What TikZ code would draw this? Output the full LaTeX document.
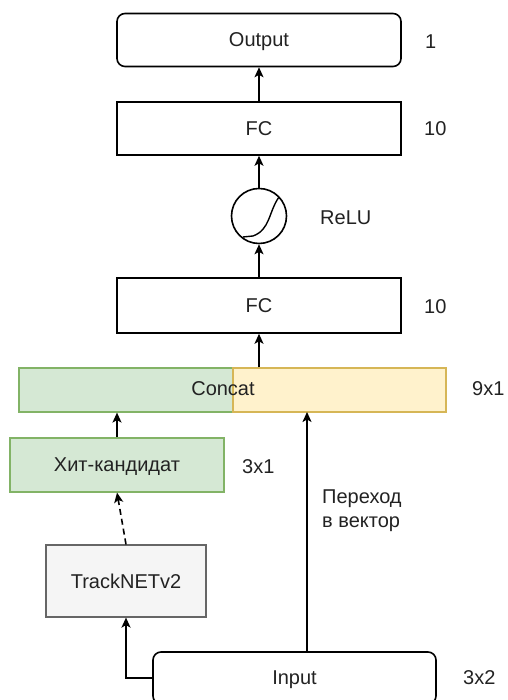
\documentclass[tikz,border=0pt]{standalone}
\usepackage{fontspec}
\setmainfont{Liberation Sans}
\usetikzlibrary{arrows.meta}
\definecolor{greenfill}{HTML}{D5E8D4}
\definecolor{greenline}{HTML}{82B366}
\definecolor{yellowfill}{HTML}{FFF2CC}
\definecolor{yellowline}{HTML}{D6B656}
\definecolor{grayfill}{HTML}{F5F5F5}
\definecolor{grayline}{HTML}{666666}
\definecolor{txt}{HTML}{222222}
\begin{document}
\begin{tikzpicture}[>={Stealth[length=10pt,width=9pt,inset=2.5pt]},x=1pt,y=1pt,
	every node/.style={font=\fontsize{20}{24}\selectfont,text=txt},
	layer/.style={draw,line width=1.6pt,minimum width=284pt,minimum height=53pt,text depth=0pt},
	io/.style={layer,rounded corners=8pt},
	greenbox/.style={draw=greenline,fill=greenfill,line width=1.2pt,minimum height=54pt,text depth=0pt},
	yellowbox/.style={draw=yellowline,fill=yellowfill,line width=1.2pt,minimum height=44pt},
	graybox/.style={draw=grayline,fill=grayfill,line width=1.2pt,minimum width=160pt,minimum height=72pt},
	dim/.style={anchor=west,inner sep=0pt},
	link/.style={->,line width=1.6pt}]
		\clip (0,0) rectangle (507,700);
		% layers
		\node[io] (out) at (259,660) {Output};
		\node[layer] (fc2) at (259,571.5) {FC};
		\node[draw,circle,line width=1.6pt,minimum size=55pt] (relu) at (259,484) {};
		\draw[line width=1.4pt] (relu.center) ++(-16,-21) -- ++(10,1) to[out=20,in=235] ++(26,39);
		\node[layer,minimum height=55pt] (fc1) at (259,394.5) {FC};
		\node[greenbox,minimum width=214pt,minimum height=44pt] (catL) at (126,310) {};
		\node[yellowbox,minimum width=213pt] (catR) at (339.5,310) {};
		\node (concat) at (223,311) {Concat};
		\node[greenbox,minimum width=214pt] (hit) at (117,235) {Хит-кандидат};
		\node[graybox] (track) at (126,119) {TrackNETv2};
		\node[io,minimum width=283pt,minimum height=52pt] (input) at (294.5,22) {Input};
		% sizes
		\node[dim] (d1) at (425,658) {1};
		\node[dim] (d2) at (424,571) {10};
		\node[dim] (dr) at (320,482) {ReLU};
		\node[dim] (d3) at (424,393) {10};
		\node[dim] (d4) at (472,311) {9x1};
		\node[dim] (d5) at (242,233) {3x1};
		\node[dim] (d6) at (463,22) {3x2};
		\node[dim,align=left] (vlab) at (322,189) {Переход\\в вектор};
		% connectors
		\coordinate (vec) at (307,288);
		\draw[link] (input.west) -| (track.south);
		\draw[link,dash pattern=on 6pt off 4pt] (track.north) -- (hit.south);
		\draw[link] (hit.north) -- (hit.north |- catL.south);
		\draw[link] (input.north -| vec) -- (vec);
		\draw[link] (fc1.south |- catR.north) -- (fc1.south);
		\draw[link] (fc1.north) -- (relu.south);
		\draw[link] (relu.north) -- (fc2.south);
		\draw[link] (fc2.north) -- (out.south);
\end{tikzpicture}
\end{document}
